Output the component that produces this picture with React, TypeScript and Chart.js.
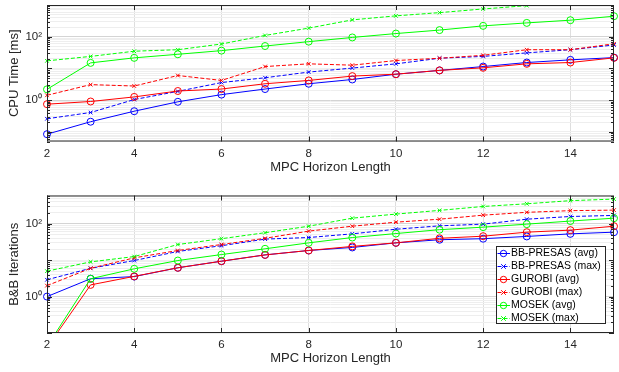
import React, { useEffect, useRef } from "react";
import { Chart, registerables } from "chart.js";

Chart.register(...registerables);

// ---------------- data ----------------
const HORIZON = [2, 3, 4, 5, 6, 7, 8, 9, 10, 11, 12, 13, 14, 15];
const X_TICKS = [2, 4, 6, 8, 10, 12, 14];
const SERIES_LABELS = [
  "BB-PRESAS (avg)",
  "BB-PRESAS (max)",
  "GUROBI (avg)",
  "GUROBI (max)",
  "MOSEK (avg)",
  "MOSEK (max)",
];

// CPU time [ms]
const CPU_BB_AVG = [0.085, 0.21, 0.45, 0.89, 1.5, 2.25, 3.3, 4.5, 6.6, 8.7, 11.5, 15.4, 18.7, 22];
const CPU_BB_MAX = [0.26, 0.41, 1.05, 1.9, 3.6, 5.1, 7.7, 10.3, 14, 21, 24, 31, 39, 55];
const CPU_GU_AVG = [0.75, 0.91, 1.27, 1.95, 2.25, 3.3, 4.2, 5.75, 6.6, 8.7, 10.5, 14, 15.4, 21.6];
const CPU_GU_MAX = [1.43, 3.1, 2.8, 6.0, 4.2, 11.5, 14, 12.7, 17.8, 21, 26, 39, 39, 60];
const CPU_MO_AVG = [2.2, 15, 21.6, 28, 36.5, 51, 70, 95, 126, 162, 220, 273, 332, 443];
const CPU_MO_MAX = [17.4, 24, 35, 39, 59, 110, 187, 340, 455, 575, 750, 955, 1300, 1700];

// B&B iterations
const IT_BB_AVG = [1.0, 3.1, 3.55, 6.2, 9.4, 14, 18.5, 22.4, 30, 36.5, 39, 45, 53, 59];
const IT_BB_MAX = [2.9, 6.0, 9.8, 17.4, 25, 38, 42, 53, 71, 88, 98, 134, 159, 170];
const IT_GU_AVG = [0.04, 2.1, 3.6, 6.2, 9.4, 14, 18.5, 24, 30, 40, 45.7, 59, 67, 86];
const IT_GU_MAX = [2.0, 6.0, 11.6, 18.5, 27, 40, 63, 86, 111, 134, 173, 207, 230, 238];
const IT_MO_AVG = [0.043, 3.1, 5.8, 9.8, 14.3, 20.6, 30, 42, 54, 69, 81, 98, 119, 143];
const IT_MO_MAX = [5.0, 9.0, 12.6, 27, 39, 57, 86, 143, 185, 234, 300, 355, 433, 478];

const CPU_SERIES = [CPU_BB_AVG, CPU_BB_MAX, CPU_GU_AVG, CPU_GU_MAX, CPU_MO_AVG, CPU_MO_MAX];
const IT_SERIES = [IT_BB_AVG, IT_BB_MAX, IT_GU_AVG, IT_GU_MAX, IT_MO_AVG, IT_MO_MAX];

const COLORS = ["#0000ff", "#0000ff", "#ff0000", "#ff0000", "#00ff00", "#00ff00"];
const FONT = '"Liberation Sans", Arial, Helvetica, sans-serif';
const AXIS_COLOR = "#262626";

const W = 619;
const H = 186;

// ---------------- helpers ----------------
function logTicks(min: number, max: number) {
  const out: { value: number }[] = [];
  for (let e = Math.floor(Math.log10(min)) - 1; e <= Math.ceil(Math.log10(max)); e++) {
    for (let m = 1; m <= 9; m++) {
      const v = parseFloat((m * Math.pow(10, e)).toPrecision(6));
      if (v >= min * 0.9999 && v <= max * 1.0001) out.push({ value: v });
    }
  }
  return out;
}

function decadeExp(v: number): number | null {
  const l = Math.log10(v);
  const r = Math.round(l);
  return Math.abs(l - r) < 1e-6 ? r : null;
}

const SUP: Record<string, string> = { "0": "⁰", "1": "¹", "2": "²", "3": "³", "-": "⁻" };
function supText(n: number) {
  return String(n)
    .split("")
    .map((c) => SUP[c] || c)
    .join("");
}

function isLabelled(v: number) {
  const e = decadeExp(v);
  return e !== null && e % 2 === 0;
}

const framePlugin = {
  id: "matlabFrame",
  afterDatasetsDraw(chart: any) {
    const { ctx, chartArea: a, scales } = chart;
    const ys = scales.y;
    const xs = scales.x;
    ctx.save();
    ctx.strokeStyle = AXIS_COLOR;
    ctx.lineWidth = 1;
    ctx.setLineDash([]);
    // inward tick marks on y
    ys.ticks.forEach((t: any) => {
      const py = Math.round(ys.getPixelForValue(t.value)) + 0.5;
      const len = decadeExp(t.value) !== null ? 5 : 3;
      ctx.beginPath();
      ctx.moveTo(a.left, py);
      ctx.lineTo(a.left + len, py);
      ctx.moveTo(a.right, py);
      ctx.lineTo(a.right - len, py);
      ctx.stroke();
    });
    // inward tick marks on x
    xs.ticks.forEach((t: any) => {
      const px = Math.round(xs.getPixelForValue(t.value)) + 0.5;
      ctx.beginPath();
      ctx.moveTo(px, a.bottom);
      ctx.lineTo(px, a.bottom - 5);
      ctx.moveTo(px, a.top);
      ctx.lineTo(px, a.top + 5);
      ctx.stroke();
    });
    // box
    ctx.strokeRect(a.left + 0.5, a.top + 0.5, a.right - a.left - 1, a.bottom - a.top - 1);
    ctx.restore();
  },
};

const legendPlugin = {
  id: "boxLegend",
  afterDraw(chart: any) {
    const opts = chart.options.plugins.boxLegend;
    if (!opts || !opts.show) return;
    const { ctx } = chart;
    const x0 = opts.x;
    const y0 = opts.y;
    const w = opts.w;
    const h = opts.h;
    ctx.save();
    ctx.fillStyle = "#ffffff";
    ctx.fillRect(x0, y0, w, h);
    ctx.strokeStyle = AXIS_COLOR;
    ctx.lineWidth = 1;
    ctx.setLineDash([]);
    ctx.strokeRect(x0 + 0.5, y0 + 0.5, w - 1, h - 1);
    chart.data.datasets.forEach((ds: any, i: number) => {
      const y = Math.round(y0 + 6.7 + i * 13.1) + 0.5;
      ctx.strokeStyle = ds.borderColor;
      ctx.lineWidth = 1;
      ctx.setLineDash(ds.borderDash || []);
      ctx.beginPath();
      ctx.moveTo(x0 + 1.5, y);
      ctx.lineTo(x0 + 14, y);
      ctx.stroke();
      ctx.setLineDash([]);
      const mx = x0 + 7.5;
      ctx.beginPath();
      if (ds.pointStyle === "circle") {
        ctx.arc(mx, y, 3.2, 0, Math.PI * 2);
      } else {
        const r = 2.3;
        ctx.moveTo(mx - r, y - r);
        ctx.lineTo(mx + r, y + r);
        ctx.moveTo(mx - r, y + r);
        ctx.lineTo(mx + r, y - r);
      }
      ctx.stroke();
      ctx.fillStyle = "#000000";
      ctx.font = `10.5px ${FONT}`;
      ctx.textBaseline = "middle";
      ctx.textAlign = "left";
      ctx.fillText(ds.label, x0 + 15, y);
    });
    ctx.restore();
  },
};

function makeDatasets(series: number[][]) {
  return series.map((vals, i) => {
    const isAvg = i % 2 === 0;
    return {
      label: SERIES_LABELS[i],
      data: HORIZON.map((x, k) => ({ x, y: vals[k] })),
      borderColor: COLORS[i],
      backgroundColor: "rgba(0,0,0,0)",
      borderWidth: 1,
      borderDash: isAvg ? [] : [4, 2],
      pointStyle: isAvg ? "circle" : "crossRot",
      pointRadius: isAvg ? 3.5 : 2.6,
      pointBorderWidth: 1,
      pointBorderColor: COLORS[i],
      pointBackgroundColor: "rgba(0,0,0,0)",
      tension: 0,
      order: 6 - i,
      clip: { left: 6, right: 6, top: 0, bottom: 0 },
    };
  });
}

type Cfg = {
  series: number[][];
  yMin: number;
  yMax: number;
  yTitle: string;
  areaTop: number;
  areaBottom: number;
  titlePadBottom: number;
  legend: boolean;
};

function makeConfig(c: Cfg): any {
  return {
    type: "line",
    data: { datasets: makeDatasets(c.series) },
    plugins: [framePlugin, legendPlugin],
    options: {
      responsive: false,
      animation: false,
      devicePixelRatio: 1,
      events: [],
      layout: { padding: { top: c.areaTop, left: 0, right: 0, bottom: 0 } },
      plugins: {
        legend: { display: false },
        tooltip: { enabled: false },
        title: { display: false },
        boxLegend: { show: c.legend, x: 496, y: 60, w: 110, h: 78 },
      },
      scales: {
        x: {
          type: "linear",
          min: 2,
          max: 15,
          afterBuildTicks: (s: any) => {
            s.ticks = X_TICKS.map((v) => ({ value: v }));
          },
          afterFit: (s: any) => {
            s.height = H - c.areaBottom;
            s.paddingLeft = 0;
            s.paddingRight = 0;
          },
          border: { display: false },
          grid: { color: "#dedede", lineWidth: 1, drawTicks: false },
          ticks: {
            autoSkip: false,
            maxRotation: 0,
            padding: 5,
            color: AXIS_COLOR,
            font: { family: FONT, size: 11.5 },
            callback: (v: any) => String(v),
          },
          title: {
            display: true,
            text: "MPC Horizon Length",
            color: AXIS_COLOR,
            font: { family: FONT, size: 13 },
            padding: { top: 0, bottom: c.titlePadBottom },
          },
        },
        y: {
          type: "logarithmic",
          min: c.yMin,
          max: c.yMax,
          afterBuildTicks: (s: any) => {
            s.ticks = logTicks(c.yMin, c.yMax);
          },
          afterFit: (s: any) => {
            s.width = 47;
            s.paddingTop = 0;
            s.paddingBottom = 0;
          },
          border: { display: false },
          grid: {
            drawTicks: false,
            lineWidth: 1,
            color: (ctx: any) => {
              const v = ctx.tick ? ctx.tick.value : 1;
              return isLabelled(v) ? "#d4d4d4" : "#eeeeee";
            },
          },
          ticks: {
            autoSkip: false,
            padding: 5,
            color: AXIS_COLOR,
            font: { family: FONT, size: 11.5 },
            callback: (v: any) => {
              const n = Number(v);
              if (!isLabelled(n)) return "";
              return "10" + supText(decadeExp(n) as number);
            },
          },
          title: {
            display: true,
            text: c.yTitle,
            color: AXIS_COLOR,
            font: { family: FONT, size: 13 },
            padding: { top: 7, bottom: 0 },
          },
        },
      },
    },
  };
}

function ChartCanvas({ cfg, top }: { cfg: Cfg; top: number }) {
  const ref = useRef<HTMLCanvasElement | null>(null);
  useEffect(() => {
    if (!ref.current) return;
    const chart = new Chart(ref.current, makeConfig(cfg));
    return () => chart.destroy();
  }, []);
  return (
    <canvas
      ref={ref}
      width={W}
      height={H}
      style={{ position: "absolute", left: 0, top, width: W, height: H, display: "block" }}
    />
  );
}

export default function App() {
  const topCfg: Cfg = {
    series: CPU_SERIES,
    yMin: 0.05,
    yMax: 1000,
    yTitle: "CPU Time [ms]",
    areaTop: 4.5,
    areaBottom: 141.5,
    titlePadBottom: 11.2,
    legend: false,
  };
  const botCfg: Cfg = {
    series: IT_SERIES,
    yMin: 0.1,
    yMax: 600,
    yTitle: "B&B Iterations",
    areaTop: 9.5,
    areaBottom: 147,
    titlePadBottom: 6.2,
    legend: true,
  };
  return (
    <div
      style={{
        position: "fixed",
        left: 0,
        top: 0,
        width: W,
        height: 2 * H,
        background: "#ffffff",
        overflow: "hidden",
      }}
    >
      <ChartCanvas cfg={topCfg} top={0} />
      <ChartCanvas cfg={botCfg} top={H} />
    </div>
  );
}
